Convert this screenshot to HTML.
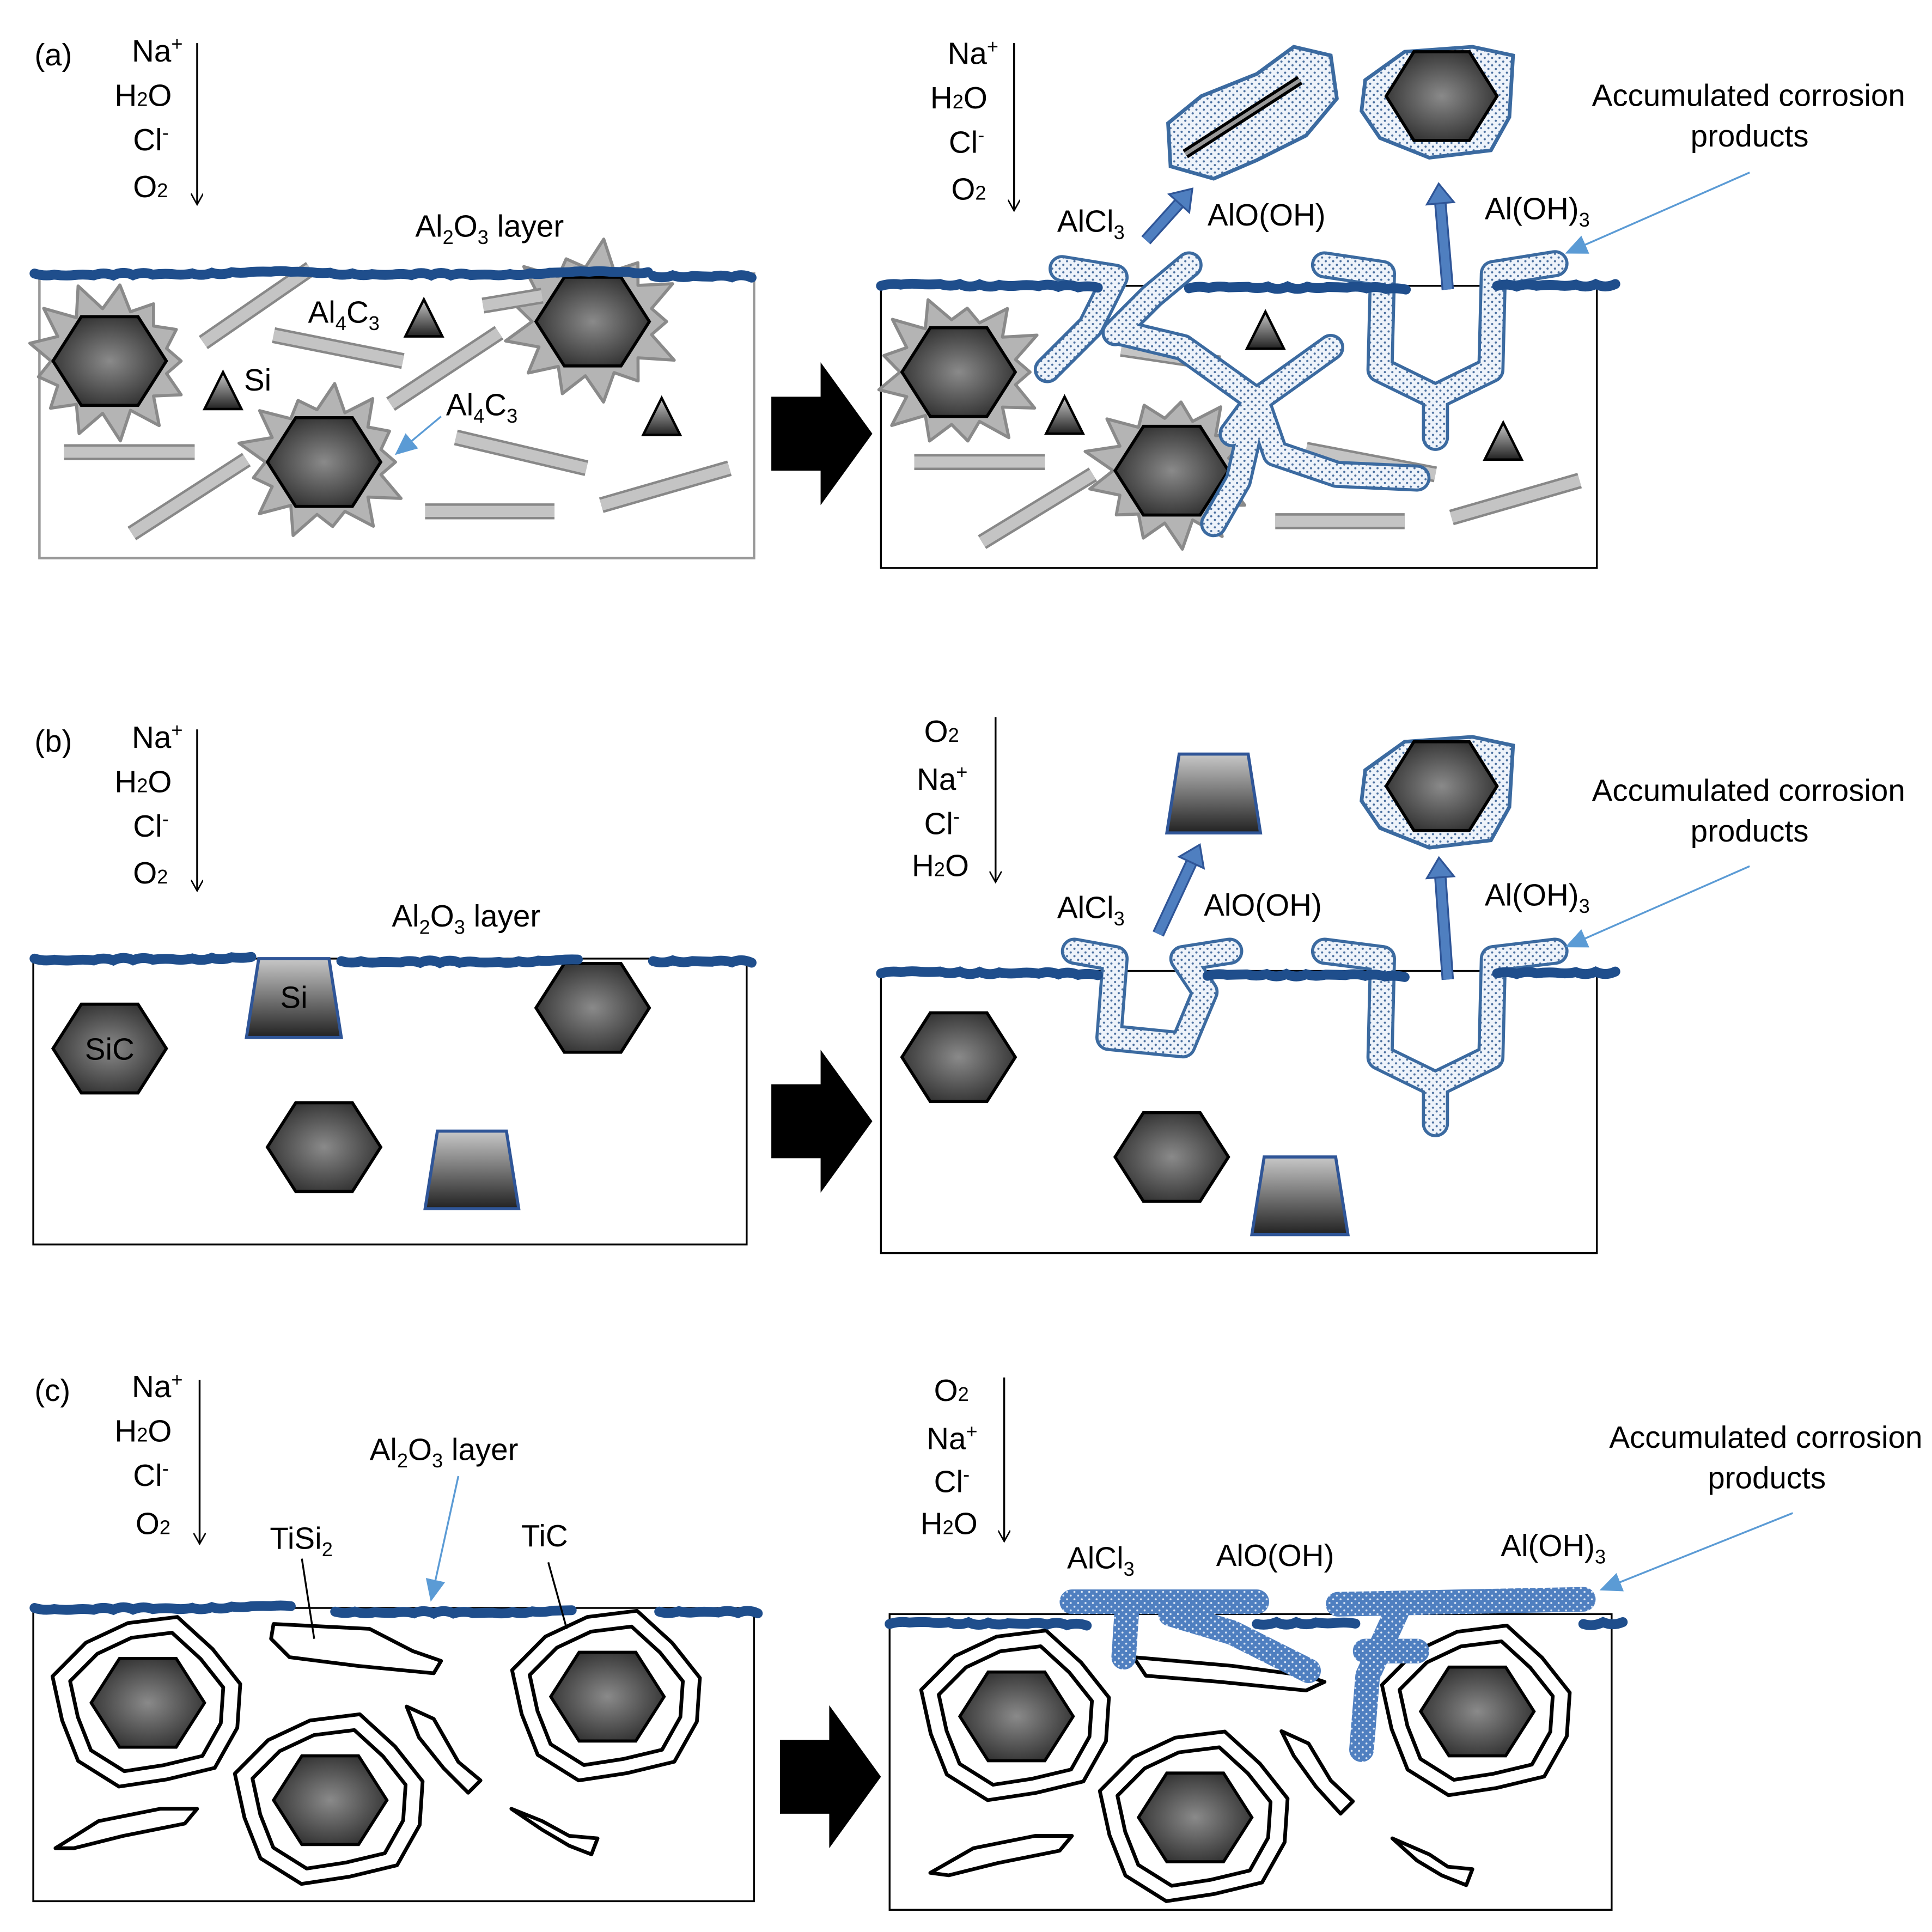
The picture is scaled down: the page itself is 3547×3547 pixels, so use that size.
<!DOCTYPE html>
<html><head><meta charset="utf-8"><style>
html,body{margin:0;padding:0;background:#fff}
svg{display:block}
text{font-family:"Liberation Sans",sans-serif;font-size:25px;fill:#000}
</style></head><body>
<svg id="s" width="3547" height="3547" viewBox="0 0 1568 1568" xmlns="http://www.w3.org/2000/svg">
<defs>
<radialGradient id="hg" cx="50%" cy="50%" r="60%"><stop offset="0" stop-color="#8a8a8a"/><stop offset="1" stop-color="#2a2a2a"/></radialGradient>
<linearGradient id="tg" x1="0" y1="0" x2="0" y2="1"><stop offset="0" stop-color="#c8c8c8"/><stop offset="1" stop-color="#222"/></linearGradient>
<pattern id="dots" width="6" height="6" patternUnits="userSpaceOnUse"><rect width="6" height="6" fill="#eef3fa"/><circle cx="2" cy="2" r="0.9" fill="#4a6f9f"/><circle cx="5" cy="5" r="0.9" fill="#4a6f9f"/></pattern>
<pattern id="dots2" width="6" height="6" patternUnits="userSpaceOnUse"><rect width="6" height="6" fill="#4f7fc0"/><circle cx="2" cy="2" r="0.8" fill="#dfe8f5"/><circle cx="5" cy="5" r="0.8" fill="#dfe8f5"/></pattern>
<marker id="ah" markerWidth="10" markerHeight="10" refX="8" refY="5" orient="auto" markerUnits="userSpaceOnUse"><path d="M0,0 L9,5 L0,10" fill="none" stroke="#000" stroke-width="1.2"/></marker>
<marker id="bh" markerWidth="20" markerHeight="16" refX="16" refY="8" orient="auto" markerUnits="userSpaceOnUse"><path d="M0,0 L18,8 L0,16Z" fill="#5b9bd5"/></marker>
</defs>
<g id="g"></g>

<text x="28" y="53">(a)</text>
<text x="107" y="50">Na<tspan dy="-9" font-size="16">+</tspan></text>
<text x="93" y="86">H<tspan font-size="16">2</tspan>O</text>
<text x="108" y="122">Cl<tspan dy="-9" font-size="16">-</tspan></text>
<text x="108" y="160">O<tspan font-size="16">2</tspan></text>
<text x="337" y="192">Al<tspan font-size="16" dy="6">2</tspan><tspan dy="-6">O</tspan><tspan font-size="16" dy="6">3</tspan><tspan dy="-6"> layer</tspan></text>
<text x="250" y="262">Al<tspan font-size="16" dy="6">4</tspan><tspan dy="-6">C</tspan><tspan font-size="16" dy="6">3</tspan></text>
<text x="362" y="337">Al<tspan font-size="16" dy="6">4</tspan><tspan dy="-6">C</tspan><tspan font-size="16" dy="6">3</tspan></text>
<text x="198" y="317">Si</text>
<text x="769" y="52">Na<tspan dy="-9" font-size="16">+</tspan></text>
<text x="755" y="88">H<tspan font-size="16">2</tspan>O</text>
<text x="770" y="124">Cl<tspan dy="-9" font-size="16">-</tspan></text>
<text x="772" y="162">O<tspan font-size="16">2</tspan></text>
<text x="858" y="188">AlCl<tspan font-size="16" dy="6">3</tspan></text>
<text x="980" y="183">AlO(OH)</text>
<text x="1205" y="178">Al(OH)<tspan font-size="16" dy="6">3</tspan></text>
<text x="1292" y="86" font-size="23">Accumulated corrosion</text>
<text x="1372" y="119" font-size="23">products</text>

<text x="28" y="610">(b)</text>
<text x="107" y="607">Na<tspan dy="-9" font-size="16">+</tspan></text>
<text x="93" y="643">H<tspan font-size="16">2</tspan>O</text>
<text x="108" y="679">Cl<tspan dy="-9" font-size="16">-</tspan></text>
<text x="108" y="717">O<tspan font-size="16">2</tspan></text>
<text x="318" y="752">Al<tspan font-size="16" dy="6">2</tspan><tspan dy="-6">O</tspan><tspan font-size="16" dy="6">3</tspan><tspan dy="-6"> layer</tspan></text>
<text x="750" y="602">O<tspan font-size="16">2</tspan></text>
<text x="744" y="641">Na<tspan dy="-9" font-size="16">+</tspan></text>
<text x="750" y="677">Cl<tspan dy="-9" font-size="16">-</tspan></text>
<text x="740" y="711">H<tspan font-size="16">2</tspan>O</text>
<text x="858" y="745">AlCl<tspan font-size="16" dy="6">3</tspan></text>
<text x="977" y="743">AlO(OH)</text>
<text x="1205" y="735">Al(OH)<tspan font-size="16" dy="6">3</tspan></text>
<text x="1292" y="650" font-size="23">Accumulated corrosion</text>
<text x="1372" y="683" font-size="23">products</text>

<text x="28" y="1137">(c)</text>
<text x="107" y="1134">Na<tspan dy="-9" font-size="16">+</tspan></text>
<text x="93" y="1170">H<tspan font-size="16">2</tspan>O</text>
<text x="108" y="1206">Cl<tspan dy="-9" font-size="16">-</tspan></text>
<text x="110" y="1245">O<tspan font-size="16">2</tspan></text>
<text x="300" y="1185">Al<tspan font-size="16" dy="6">2</tspan><tspan dy="-6">O</tspan><tspan font-size="16" dy="6">3</tspan><tspan dy="-6"> layer</tspan></text>
<text x="219" y="1257">TiSi<tspan font-size="16" dy="6">2</tspan></text>
<text x="423" y="1255">TiC</text>
<text x="758" y="1137">O<tspan font-size="16">2</tspan></text>
<text x="752" y="1176">Na<tspan dy="-9" font-size="16">+</tspan></text>
<text x="758" y="1211">Cl<tspan dy="-9" font-size="16">-</tspan></text>
<text x="747" y="1245">H<tspan font-size="16">2</tspan>O</text>
<text x="866" y="1273">AlCl<tspan font-size="16" dy="6">3</tspan></text>
<text x="987" y="1271">AlO(OH)</text>
<text x="1218" y="1263">Al(OH)<tspan font-size="16" dy="6">3</tspan></text>
<text x="1306" y="1175" font-size="23">Accumulated corrosion</text>
<text x="1386" y="1208" font-size="23">products</text>
</svg>
<script>
const g=document.getElementById('g');let h='';
const add=s=>h+=s;
function hex(cx,cy,w=92,ht=72,label){const a=w/2,b=w/4,c=ht/2;
add(`<polygon points="${cx-a},${cy} ${cx-b},${cy-c} ${cx+b},${cy-c} ${cx+a},${cy} ${cx+b},${cy+c} ${cx-b},${cy+c}" fill="url(#hg)" stroke="#000" stroke-width="2.5"/>`);
if(label)add(`<text x="${cx}" y="${cy+9}" text-anchor="middle">${label}</text>`);}
function tri(cx,cy,s=30){add(`<polygon points="${cx},${cy-s/2} ${cx+s/2},${cy+s/2} ${cx-s/2},${cy+s/2}" fill="url(#tg)" stroke="#000" stroke-width="2"/>`);}
function trap(x1,x2,y1,y2,label){const i=10;add(`<polygon points="${x1+i},${y1} ${x2-i},${y1} ${x2},${y2} ${x1},${y2}" fill="url(#tg)" stroke="#2f5597" stroke-width="2.5"/>`);if(label)add(`<text x="${(x1+x2)/2}" y="${y1+40}" text-anchor="middle">${label}</text>`);}
function bar(x1,y1,x2,y2){add(`<line x1="${x1}" y1="${y1}" x2="${x2}" y2="${y2}" stroke="#888" stroke-width="13"/><line x1="${x1}" y1="${y1}" x2="${x2}" y2="${y2}" stroke="#c4c4c4" stroke-width="9"/>`);}
function wave(x1,x2,y){let d=`M${x1},${y}`;for(let x=x1;x<x2;x+=16){d+=` Q${x+8},${y+Math.sin(x*0.05)*2.5} ${x+16},${y+Math.sin(x*0.023)*1.5}`;}
add(`<path d="${d}" fill="none" stroke="#1f4e8c" stroke-width="8" stroke-linecap="round"/>`);}
function spiky(cx,cy,r,seed){let p=[];const n=26;for(let i=0;i<n;i++){const a=i/n*Math.PI*2;const rr=r*(i%2?0.82:(1.0+0.25*Math.abs(Math.sin(i*seed))));p.push((cx+rr*Math.cos(a)).toFixed(1)+','+(cy+rr*0.9*Math.sin(a)).toFixed(1));}
add(`<polygon points="${p.join(' ')}" fill="#b4b4b4" stroke="#8a8a8a" stroke-width="2.5" stroke-linejoin="round"/>`);}
function arrowDown(x,y1,y2){add(`<line x1="${x}" y1="${y1}" x2="${x}" y2="${y2}" stroke="#000" stroke-width="1.5" marker-end="url(#ah)"/>`);}
function bigArrow(x,cy){add(`<polygon points="${x},${cy-30} ${x+40},${cy-30} ${x+40},${cy-58} ${x+82},${cy} ${x+40},${cy+58} ${x+40},${cy+30} ${x},${cy+30}" fill="#000"/>`);}
function tube(d,w=22){add(`<path d="${d}" fill="none" stroke="#3b6aa0" stroke-width="${w}" stroke-linejoin="round" stroke-linecap="round"/><path d="${d}" fill="none" stroke="url(#dots)" stroke-width="${w-5}" stroke-linejoin="round" stroke-linecap="round"/>`);}
function tubeF(d,w=20){add(`<path d="${d}" fill="none" stroke="url(#dots2)" stroke-width="${w}" stroke-linejoin="round" stroke-linecap="round"/>`);}
function blueArrow(x1,y1,x2,y2){add(`<line x1="${x1}" y1="${y1}" x2="${x2}" y2="${y2}" stroke="#5b9bd5" stroke-width="1.5" marker-end="url(#bh)"/>`);}
function fatArrow(x1,y1,x2,y2){add(`<line x1="${x1}" y1="${y1}" x2="${x2}" y2="${y2}" stroke="#2f5597" stroke-width="10"/><line x1="${x1}" y1="${y1}" x2="${x2}" y2="${y2}" stroke="#4f7fc0" stroke-width="7"/>`);
const a=Math.atan2(y2-y1,x2-x1),L=16,W=11;add(`<polygon points="${x2+Math.cos(a)*L},${y2+Math.sin(a)*L} ${x2+Math.cos(a+1.57)*W},${y2+Math.sin(a+1.57)*W} ${x2-Math.cos(a+1.57)*W},${y2-Math.sin(a+1.57)*W}" fill="#4f7fc0" stroke="#2f5597" stroke-width="1.5"/>`);}
function ring(cx,cy,r){let p=[];for(let i=0;i<12;i++){const a=i/12*Math.PI*2+0.3;const rr=r*(1+0.07*Math.sin(i*2.3));p.push((cx+rr*Math.cos(a)).toFixed(1)+','+(cy+rr*0.9*Math.sin(a)).toFixed(1));}
add(`<polygon points="${p.join(' ')}" fill="#fff" stroke="#000" stroke-width="3" stroke-linejoin="round"/>`);}
function inc(cx,cy){ring(cx,cy,76);ring(cx,cy,62);hex(cx,cy,92,72);}
function sq(d){add(`<path d="${d}" fill="#fff" stroke="#000" stroke-width="3" stroke-linejoin="round"/>`);}

add('<rect x="32" y="222" width="580" height="231" fill="#fff" stroke="#999" stroke-width="2"/>');
spiky(89,293,58,1.3);spiky(263,375,58,2.1);spiky(481,261,60,0.7);
bar(165,278,252,218);bar(222,272,327,293);bar(317,328,405,270);bar(52,367,158,367);bar(107,433,200,373);bar(370,355,476,380);bar(345,415,450,415);bar(488,410,592,380);bar(392,248,440,240);
hex(89,293);hex(263,375);hex(481,261);
tri(344,258);tri(181,317);tri(537,338);
wave(28,255,222);wave(270,515,222);wave(530,610,224);
arrowDown(160,35,165);
blueArrow(358,338,322,368);
bigArrow(626,352);

add('<rect x="715" y="232" width="581" height="229" fill="#fff" stroke="#000" stroke-width="1.5"/>');
spiky(778,302,58,1.1);spiky(951,382,58,1.9);
bar(742,375,848,375);bar(797,440,887,385);bar(1035,423,1140,423);bar(1178,420,1282,390);bar(1060,365,1165,385);bar(910,283,990,295);
hex(778,302);hex(951,382);
tri(1027,268);tri(864,337);tri(1220,358);
tube('M862,218 L905,225 L885,265 L850,300 M910,270 L960,282 L1020,325 L1000,352 M965,215 L935,240 L905,270 M1020,325 L1080,282 M1020,325 L1035,368 L1085,385 L1150,388 M1020,325 L1005,390 L985,425');
tube('M1075,215 L1122,222 L1120,300 L1165,322 L1210,300 L1212,222 L1262,214 M1165,322 L1165,355');
wave(715,890,232);wave(965,1130,234);wave(1215,1298,232);
add('<path d="M948,100 L975,78 L1020,60 L1050,38 L1080,45 L1085,80 L1060,110 L1020,130 L985,145 L950,135 Z" fill="url(#dots)" stroke="#3b6aa0" stroke-width="3"/>');
add('<line x1="962" y1="125" x2="1055" y2="65" stroke="#000" stroke-width="8"/><line x1="962" y1="125" x2="1055" y2="65" stroke="#999" stroke-width="3"/>');
add('<path d="M1108,65 L1140,42 L1195,38 L1228,45 L1225,95 L1210,122 L1160,128 L1120,112 L1105,90 Z" fill="url(#dots)" stroke="#3b6aa0" stroke-width="3"/>');
hex(1170,78,90,72);
arrowDown(823,35,170);
fatArrow(930,195,957,165);fatArrow(1175,235,1169,165);
blueArrow(1420,140,1272,205);

add('<rect x="27" y="778" width="579" height="232" fill="#fff" stroke="#000" stroke-width="1.5"/>');
hex(89,851,92,72,'SiC');hex(481,818);hex(263,931);
trap(200,277,778,842,'Si');trap(345,421,918,981);
wave(28,200,778);wave(277,465,780);wave(530,606,780);
arrowDown(160,592,722);
bigArrow(626,910);

add('<rect x="715" y="788" width="581" height="229" fill="#fff" stroke="#000" stroke-width="1.5"/>');
tube('M872,772 L905,778 L900,842 L960,848 L978,805 L960,778 L998,772');
tube('M1075,772 L1122,778 L1120,858 L1165,880 L1210,858 L1212,778 L1262,772 M1165,880 L1165,912');
hex(778,858);hex(951,939);trap(1016,1094,939,1002);trap(947,1023,612,676);
wave(715,890,790);wave(980,1130,792);wave(1215,1298,790);
add('<path d="M1108,625 L1140,602 L1195,598 L1228,605 L1225,655 L1210,682 L1160,688 L1120,672 L1105,650 Z" fill="url(#dots)" stroke="#3b6aa0" stroke-width="3"/>');
hex(1170,638,90,72);
arrowDown(808,582,715);
fatArrow(940,758,967,700);fatArrow(1175,795,1169,712);
blueArrow(1420,703,1272,768);

add('<rect x="27" y="1305" width="585" height="238" fill="#fff" stroke="#000" stroke-width="1.5"/>');
inc(120,1382);inc(268,1461);inc(493,1377);
sq('M222,1318 L300,1322 L335,1340 L358,1348 L352,1358 L290,1352 L235,1345 L220,1330 Z');
sq('M330,1385 L352,1395 L372,1430 L390,1445 L380,1455 L360,1435 L340,1410 Z');
sq('M415,1468 L440,1478 L462,1490 L485,1492 L480,1505 L462,1498 L440,1485 Z');
sq('M45,1500 L80,1478 L130,1468 L160,1468 L150,1480 L100,1490 L60,1500 Z');
wave(28,225,1305);wave(272,460,1308);wave(535,612,1308);
arrowDown(162,1120,1252);
add('<line x1="255" y1="1330" x2="245" y2="1265" stroke="#000" stroke-width="1.5"/><line x1="460" y1="1322" x2="445" y2="1268" stroke="#000" stroke-width="1.5"/>');
blueArrow(372,1198,350,1298);
bigArrow(633,1442);

add('<rect x="722" y="1310" width="586" height="240" fill="#fff" stroke="#000" stroke-width="1.5"/>');
inc(825,1393);inc(970,1475);inc(1199,1389);
sq('M920,1345 L1000,1352 L1060,1360 L1075,1365 L1060,1372 L990,1365 L930,1360 Z');
sq('M1040,1405 L1062,1415 L1080,1445 L1098,1462 L1088,1472 L1068,1450 L1050,1425 Z');
sq('M1130,1492 L1160,1505 L1175,1515 L1195,1517 L1190,1530 L1170,1522 L1150,1510 Z');
sq('M755,1520 L790,1500 L840,1490 L870,1490 L860,1502 L810,1512 L770,1522 Z');
wave(722,870,1318);wave(1020,1090,1318);wave(1285,1308,1318);
tubeF('M870,1300 L1020,1300 M915,1300 L912,1345 M950,1310 L1000,1325 L1062,1356 M1086,1302 L1285,1298 M1135,1305 L1110,1360 L1105,1420 M1108,1340 L1150,1340',20);
arrowDown(815,1118,1250);
blueArrow(1455,1228,1300,1290);
g.innerHTML=h;
</script>
</body></html>
